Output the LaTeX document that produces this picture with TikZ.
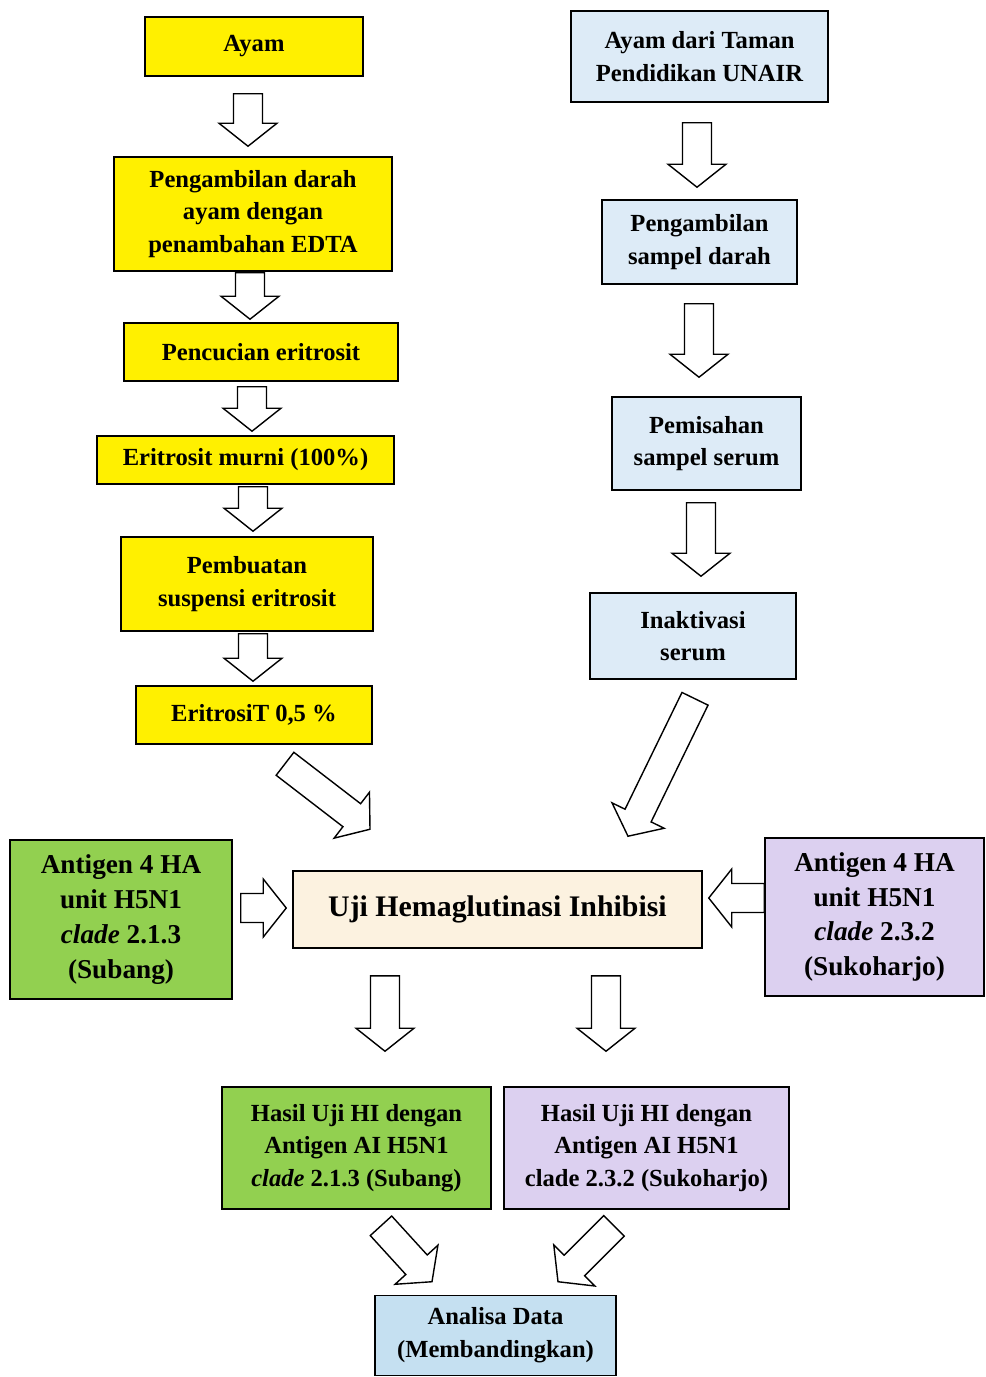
\documentclass[tikz,border=0pt]{standalone}
\usepackage{fontspec}
\setmainfont{Liberation Serif}
\usepackage{tikz}
\usetikzlibrary{calc, positioning}
\definecolor{boxyellow}{HTML}{FFF000}
\definecolor{boxblue}{HTML}{DDEBF7}
\definecolor{boxgreen}{HTML}{92D050}
\definecolor{boxlilac}{HTML}{DCD0F0}
\definecolor{boxcream}{HTML}{FCF2E0}
\definecolor{boxsky}{HTML}{C5E0F1}

% hollow block arrow between two points
\newcommand{\arrshaft}{0.29cm}
\newcommand{\arrhead}{0.58cm}
\newcommand{\arrheadlen}{0.46cm}
\newcommand{\blockarrow}[2]{%
    \coordinate (ba-s) at (#1);
    \coordinate (ba-e) at (#2);
    \coordinate (ba-h) at ($(ba-e)!\arrheadlen!(ba-s)$);
    \draw[blockarr] ($(ba-s)!\arrshaft!90:(ba-e)$) -- ($(ba-h)!\arrshaft!90:(ba-e)$)
        -- ($(ba-h)!\arrhead!90:(ba-e)$) -- (ba-e) -- ($(ba-h)!\arrhead!-90:(ba-e)$)
        -- ($(ba-h)!\arrshaft!-90:(ba-e)$) -- ($(ba-s)!\arrshaft!-90:(ba-e)$) -- cycle;
}

\begin{document}
\begin{tikzpicture}[
    x=0.02cm, y=-0.02cm,
    every node/.style={font=\bfseries\fontsize{14}{18.6}\selectfont},
    box/.style={
        rectangle,
        draw=black,
        line width=0.9pt,
        align=center,
        inner sep=2pt
    },
    leftbox/.style={box, fill=boxyellow},
    rightbox/.style={box, fill=boxblue},
    antigen/.style={box, font=\bfseries\fontsize{15.5}{19.8}\selectfont},
    blockarr/.style={draw=black, fill=white, line width=0.8pt, line join=miter}
]
\useasboundingbox (0,0) rectangle (985,1377);

% left column
\node[leftbox, minimum width=4.36cm, minimum height=1.18cm] (ayam) at (254,46.5) {Ayam};
\node[leftbox, minimum width=5.56cm, minimum height=2.28cm] (ambil) at (253,214) {Pengambilan darah\\ayam dengan\\penambahan EDTA};
\node[leftbox, minimum width=5.48cm, minimum height=1.16cm] (cuci) at (261,352) {Pencucian eritrosit};
\node[leftbox, minimum width=5.94cm, minimum height=0.96cm] (murni) at (245.5,460) {Eritrosit murni (100\%)};
\node[leftbox, minimum width=5.04cm, minimum height=1.88cm] (buat) at (247,584) {Pembuatan\\suspensi eritrosit};
\node[leftbox, minimum width=4.72cm, minimum height=1.16cm] (eri05) at (254,715) {EritrosiT 0,5 \%};

% right column
\node[rightbox, minimum width=5.14cm, minimum height=1.82cm] (taman) at (699.5,56.5) {Ayam dari Taman\\Pendidikan UNAIR};
\node[rightbox, minimum width=3.90cm, minimum height=1.68cm] (sampel) at (699.5,242) {Pengambilan\\sampel darah};
\node[rightbox, minimum width=3.78cm, minimum height=1.86cm] (pisah) at (706.5,443.5) {Pemisahan\\sampel serum};
\node[rightbox, minimum width=4.12cm, minimum height=1.72cm] (inakt) at (693,636) {Inaktivasi\\serum};

% test and antigens
\node[antigen, fill=boxgreen, minimum width=4.44cm, minimum height=3.18cm] (agsub) at (121,919.5) {Antigen 4 HA\\unit H5N1\\\textit{clade} 2.1.3\\(Subang)};
\node[box, fill=boxcream, minimum width=8.18cm, minimum height=1.54cm, font=\bfseries\fontsize{17}{20}\selectfont] (uji) at (497.5,909.5) {Uji Hemaglutinasi Inhibisi};
\node[antigen, fill=boxlilac, minimum width=4.38cm, minimum height=3.16cm] (agsuk) at (874.5,917) {Antigen 4 HA\\unit H5N1\\\textit{clade} 2.3.2\\(Sukoharjo)};

% results
\node[box, fill=boxgreen, minimum width=5.38cm, minimum height=2.44cm] (hasilsub) at (356.5,1148) {Hasil Uji HI dengan\\Antigen AI H5N1\\\textit{clade} 2.1.3 (Subang)};
\node[box, fill=boxlilac, minimum width=5.70cm, minimum height=2.44cm] (hasilsuk) at (646.5,1148) {Hasil Uji HI dengan\\Antigen AI H5N1\\clade 2.3.2 (Sukoharjo)};
\node[box, fill=boxsky, minimum width=4.82cm, minimum height=1.60cm] (analisa) at (495.5,1335.5) {Analisa Data\\(Membandingkan)};

% arrows, left column
\blockarrow{$(ayam.south)+(-6,17)$}{$(ambil.north)+(-5,-10)$}
\blockarrow{$(ambil.south)+(-3,1)$}{$(cuci.north)+(-11,-3)$}
\blockarrow{$(cuci.south)+(-9,5)$}{$(murni.north)+(6.5,-4)$}
\blockarrow{$(murni.south)+(7.5,2)$}{$(buat.north)+(6,-5)$}
\blockarrow{$(buat.south)+(6,2)$}{$(eri05.north)+(-1,-4)$}

% arrows, right column
\blockarrow{$(taman.south)+(-2.5,20)$}{$(sampel.north)+(-2.5,-12)$}
\blockarrow{$(sampel.south)+(-0.5,19)$}{$(pisah.north)+(-7.5,-19)$}
\blockarrow{$(pisah.south)+(-5.5,12)$}{$(inakt.north)+(8,-16)$}

% into the test
\blockarrow{$(eri05.south)+(31,19)$}{$(uji.north)+(-127.5,-41)$}
\blockarrow{$(inakt.south)+(2,19)$}{$(uji.north)+(130.5,-34)$}
\blockarrow{$(agsub.east)+(8,-11.5)$}{$(uji.west)+(-6,-1.5)$}
\blockarrow{$(agsuk.west)+(0,-19)$}{$(uji.east)+(6,-11.5)$}

% out of the test
\blockarrow{$(uji.south)+(-112.5,27)$}{$(hasilsub.north)+(28.5,-35)$}
\blockarrow{$(uji.south)+(108.5,27)$}{$(hasilsuk.north)+(-40.5,-35)$}
\blockarrow{$(hasilsub.south)+(24.5,16)$}{$(analisa.north)+(-63.5,-13)$}
\blockarrow{$(hasilsuk.south)+(-32.5,16)$}{$(analisa.north)+(62.5,-13)$}

\end{tikzpicture}
\end{document}
